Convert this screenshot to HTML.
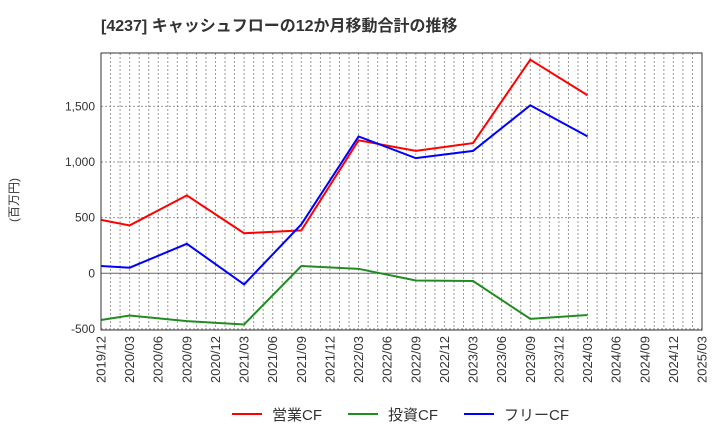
<!DOCTYPE html>
<html><head><meta charset="utf-8"><style>
body{margin:0;background:#fff;font-family:"Liberation Sans","Noto Sans CJK JP",sans-serif}
</style></head><body>
<svg id="c" width="720" height="440" xmlns="http://www.w3.org/2000/svg">
<text x="101" y="31" font-size="16" font-weight="bold" fill="#333" font-family="Liberation Sans,Noto Sans CJK JP,sans-serif">[4237]  キャッシュフローの12か月移動合計の推移</text>
<text transform="translate(18,200) rotate(-90)" font-size="12" fill="#333" text-anchor="middle" font-family="Liberation Sans,Noto Sans CJK JP,sans-serif">(百万円)</text>
<g id="grid"></g><g id="lines"></g><g id="axes"></g>
<g font-size="15" fill="#333" font-family="Liberation Sans,Noto Sans CJK JP,sans-serif">
<line x1="232" y1="414" x2="262" y2="414" stroke="#f00" stroke-width="2"/><text x="272" y="420">営業CF</text>
<line x1="348" y1="414" x2="378" y2="414" stroke="#228b22" stroke-width="2"/><text x="388" y="420">投資CF</text>
<line x1="464" y1="414" x2="494" y2="414" stroke="#00f" stroke-width="2"/><text x="504" y="420">フリーCF</text>
</g>
</svg>
<script>
const xLabels=["2019/12","2020/03","2020/06","2020/09","2020/12","2021/03","2021/06","2021/09","2021/12","2022/03","2022/06","2022/09","2022/12","2023/03","2023/06","2023/09","2023/12","2024/03","2024/06","2024/09","2024/12","2025/03"];
const yTicks=[-500,0,500,1000,1500];
const yTickLabels=["-500","0","500","1,000","1,500"];
const dataIdx=[0,1,3,5,7,9,11,13,15,17];
const operating=[480,430,700,360,385,1195,1100,1170,1920,1600];
const investing=[-420,-380,-430,-460,65,40,-65,-70,-410,-375];
const freeCF=[65,50,265,-100,440,1230,1035,1100,1510,1230];
const L=101,R=702,T=53,B=330,yMin=-510,yMax=1980;
const x=i=>L+(R-L)*i/(xLabels.length-1);
const y=v=>B-(v-yMin)/(yMax-yMin)*(B-T);
const NS="http://www.w3.org/2000/svg";
function mk(p,t,a){const e=document.createElementNS(NS,t);for(const k in a)e.setAttribute(k,a[k]);p.appendChild(e);return e;}
const g=document.getElementById('grid'),ax=document.getElementById('axes'),ln=document.getElementById('lines');
for(let m=1;m<(xLabels.length-1)*3;m++){const xx=L+(R-L)*m/((xLabels.length-1)*3);
const e=mk(g,'line',{x1:xx,x2:xx,y1:T,y2:B,stroke:'#999','stroke-dasharray':'2,2'});

}
yTicks.forEach((v,i)=>{const e=mk(g,'line',{x1:L,x2:R,y1:y(v),y2:y(v),stroke:v==0?'#666':'#999','stroke-dasharray':v==0?'':'2,2'});


const t=mk(ax,'text',{x:L-6,y:y(v)+4,'text-anchor':'end','font-size':12,fill:'#333'});t.textContent=yTickLabels[i];

});
const fr=mk(ax,'rect',{x:L,y:T,width:R-L,height:B-T,fill:'none',stroke:'#333'});


xLabels.forEach((s,i)=>{const t=mk(ax,'text',{transform:`translate(${x(i)+4.5},${B+6}) rotate(-90)`,'text-anchor':'end','font-size':13,fill:'#333'});t.textContent=s;

});
[[operating,'#f00','operating-cf-line'],[investing,'#228b22','investing-cf-line'],[freeCF,'#00f','free-cf-line']].forEach(([d,c,n])=>{
const p=mk(ln,'polyline',{points:d.map((v,k)=>x(dataIdx[k])+','+y(v)).join(' '),fill:'none',stroke:c,'stroke-width':2});

});
</script>
</body></html>
